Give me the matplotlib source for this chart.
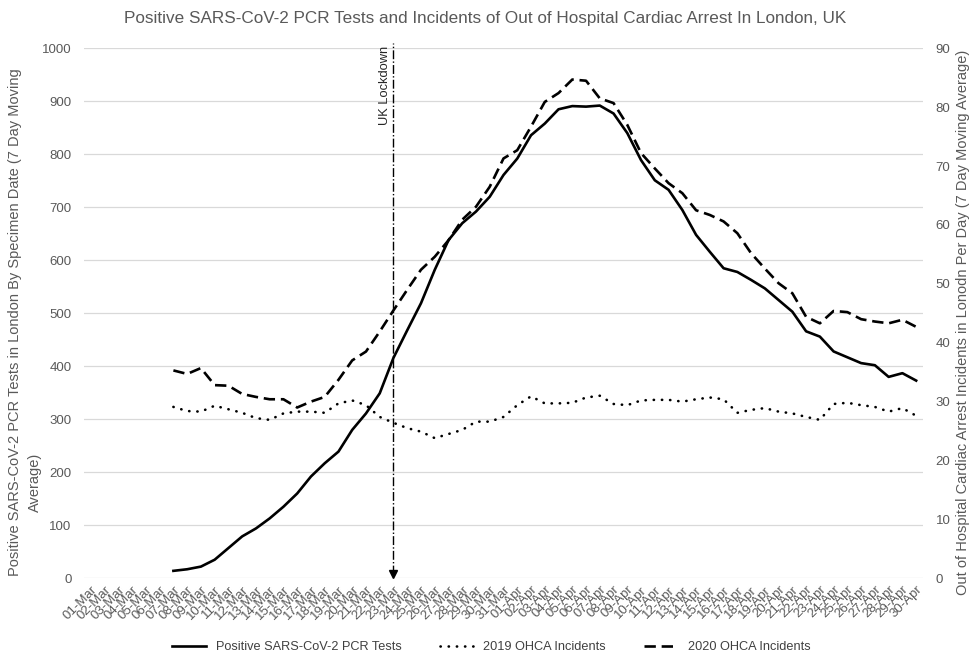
import numpy as np
import matplotlib.pyplot as plt

# dates 01-Mar .. 30-Apr
days = [f"{d:02d}-Mar" for d in range(1, 32)] + [f"{d:02d}-Apr" for d in range(1, 31)]

nan = np.nan
# positive SARS-CoV-2 PCR tests (7 day moving average), starts 07-Mar
pcr_tests = [nan] * 6 + [
    14, 17, 22, 35, 57, 79, 94, 113, 135, 160, 192, 217, 239, 280, 311, 349,
    416, 468, 519, 582, 638, 670, 692, 720, 761, 792, 836, 858, 885,
    891, 890, 892, 877, 840, 789, 751, 733, 695, 648, 616, 585, 578, 563,
    547, 525, 503, 466, 456, 428, 417, 406, 402, 380, 387, 373]

# OHCA incidents per day (7 day moving average)
ohca_2019 = [nan] * 6 + [
    29.1, 28.4, 28.3, 29.3, 28.7, 28.1, 27.2, 26.9, 28.0, 28.3, 28.3, 28.1,
    29.7, 30.2, 29.4, 27.4, 26.4, 25.5, 24.9, 23.8, 24.5, 25.2, 26.6, 26.6,
    27.4, 29.4, 30.9, 29.7, 29.7, 29.8, 30.7, 31.0, 29.6, 29.4, 30.2, 30.3,
    30.3, 30.0, 30.4, 30.7, 30.4, 28.1, 28.6, 28.9, 28.3, 28.0, 27.4, 26.9,
    29.6, 29.8, 29.4, 29.1, 28.3, 28.9, 27.6]

ohca_2020 = [nan] * 6 + [
    35.3, 34.7, 35.7, 32.8, 32.7, 31.3, 30.8, 30.4, 30.4, 29.0, 30.0, 30.8,
    33.7, 37.0, 38.5, 41.9, 45.5, 49.0, 52.4, 54.6, 57.4, 60.9, 63.1, 66.5,
    71.3, 72.7, 76.7, 80.9, 82.4, 84.7, 84.5, 81.5, 80.7, 77.0, 72.2, 69.6,
    67.1, 65.4, 62.5, 61.7, 60.6, 58.6, 55.2, 52.6, 50.1, 48.4, 44.4, 43.3,
    45.4, 45.2, 44.0, 43.6, 43.3, 43.9, 42.7]

lockdown_day = "23-Mar"

grey = "#595959"
plt.rcParams['font.family'] = ['Liberation Sans', 'DejaVu Sans']

fig = plt.figure(figsize=(9.71, 6.54), dpi=100)
ax = fig.add_axes([0.0865, 0.1158, 0.8641, 0.8103])
ax2 = ax.twinx()

x = np.arange(len(days))
lw = 1.9
l1, = ax.plot(x, pcr_tests, color='black', lw=lw, solid_joinstyle='round')
l2, = ax2.plot(x, ohca_2019, color='black', lw=lw,
               linestyle=(0, (0.1, 3.0)), dash_capstyle='round')
l3, = ax2.plot(x, ohca_2020, color='black', lw=lw, linestyle=(0, (4.3, 2.2)))

ax.set_xlim(-0.5, len(days) - 0.5)
ax.set_ylim(0, 1000)
ax2.set_ylim(0, 90)
ax.set_yticks(np.arange(0, 1001, 100))
ax2.set_yticks(np.arange(0, 91, 10))
ax.set_xticks(x)
ax.set_xticklabels(days, rotation=45, ha='right', rotation_mode='anchor',
                   fontsize=8.5, color=grey)
ax.grid(axis='y', color='#d9d9d9', lw=0.9)
ax.set_axisbelow(True)
for a in (ax, ax2):
    for s in a.spines.values():
        s.set_visible(False)
    a.tick_params(length=0, colors=grey, labelsize=9.5)
ax.tick_params(axis='y', pad=9)
ax2.tick_params(axis='y', pad=9)
ax.tick_params(axis='x', pad=4)

# lockdown marker
ld = days.index(lockdown_day)
ax.plot([ld, ld], [8, 1010], color='black', lw=1.0, linestyle='-.', clip_on=False)
ax.plot([ld], [8], marker='v', color='black', markersize=6, clip_on=False)
ax.text(ld - 0.65, 1005, "UK Lockdown", rotation=90, ha='center', va='top',
        fontsize=9.3, color='#262626')

fig.text(0.5, 1 - 18 / 654, "Positive SARS-CoV-2 PCR Tests and Incidents of Out of "
         "Hospital Cardiac Arrest In London, UK", ha='center', va='center',
         fontsize=12.3, color=grey)
fig.text(15 / 971, 1 - 322 / 654, "Positive SARS-CoV-2 PCR Tests in London By "
         "Specimen Date (7 Day Moving", rotation=90, ha='center', va='center',
         fontsize=10.5, color=grey)
fig.text(35 / 971, 1 - 482 / 654, "Average)", rotation=90, ha='center',
         va='center', fontsize=10.5, color=grey)
fig.text(963 / 971, 1 - 322 / 654, "Out of Hospital Cardiac Arrest Incidents in "
         "Lonodn Per Day (7 Day Moving Average)", rotation=90, ha='center',
         va='center', fontsize=10.5, color=grey)

fig.legend([l1, l2, l3], ["Positive SARS-CoV-2 PCR Tests", "2019 OHCA Incidents",
                          "2020 OHCA Incidents"],
           loc='center', bbox_to_anchor=(0.506, 1 - 647 / 654), ncol=3,
           frameon=False, fontsize=9.2, handlelength=2.6, columnspacing=3.0,
           labelcolor='#404040')

fig.savefig('out.png', dpi=100)
